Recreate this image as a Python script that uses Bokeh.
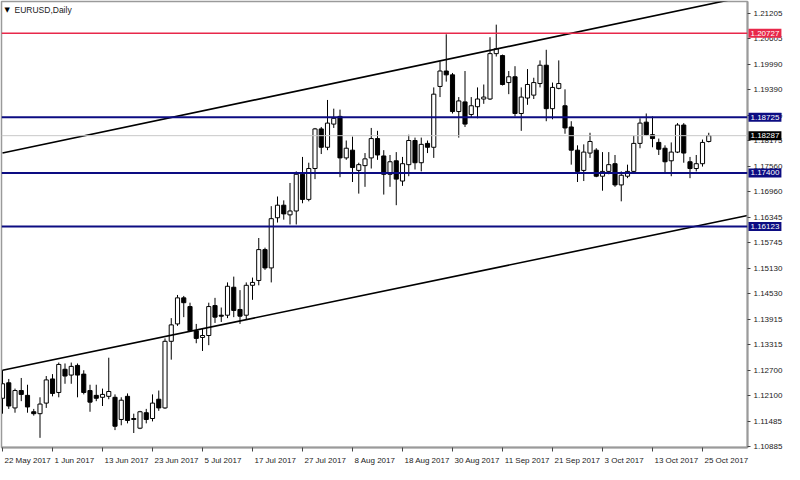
import pandas as pd
from bokeh.plotting import figure
from bokeh.models import FixedTicker, Span, Label, Range1d, PrintfTickFormatter, ColumnDataSource
from bokeh.embed import file_html
from bokeh.resources import INLINE

# ---------------- data ----------------
dates = pd.bdate_range("2017-05-22", periods=114)

opens = [1.12036, 1.12404, 1.11806, 1.12220, 1.12105, 1.11715, 1.11669, 1.11921, 1.12496, 1.12174,
         1.12726, 1.12588, 1.12818, 1.12611, 1.12220, 1.12105, 1.12059, 1.12082, 1.12059, 1.11531,
         1.12082, 1.11554, 1.11324, 1.11692, 1.11554, 1.12013, 1.11806, 1.13392, 1.13806, 1.14426,
         1.14219, 1.13645, 1.13484, 1.13530, 1.14242, 1.14013, 1.14013, 1.14679, 1.14150, 1.14013,
         1.14725, 1.14840, 1.15575, 1.15139, 1.16333, 1.16632, 1.16402, 1.16494, 1.17368, 1.16770,
         1.17505, 1.18448, 1.18011, 1.18563, 1.18746, 1.17758, 1.17942, 1.17460, 1.17574, 1.17758,
         1.18218, 1.17804, 1.17368, 1.17689, 1.17207, 1.17597, 1.18172, 1.17643, 1.18103, 1.18011,
         1.19459, 1.19826, 1.19735, 1.18861, 1.19091, 1.18792, 1.18976, 1.19160, 1.19160, 1.20240,
         1.20194, 1.19551, 1.19689, 1.18815, 1.19183, 1.19252, 1.19528, 1.19964, 1.18930, 1.19413,
         1.18999, 1.18494, 1.17942, 1.17460, 1.17873, 1.17942, 1.17322, 1.17437, 1.17620, 1.17115,
         1.17322, 1.17437, 1.18103, 1.18609, 1.18310, 1.18126, 1.17988, 1.17689, 1.17896, 1.18540,
         1.17666, 1.17505, 1.17620, 1.18149]

highs = [1.12703, 1.12496, 1.12266, 1.12519, 1.12358, 1.11783, 1.12059, 1.12565, 1.12611, 1.12886,
         1.12864, 1.12886, 1.12864, 1.12703, 1.12358, 1.12358, 1.12266, 1.13001, 1.12128, 1.12059,
         1.12151, 1.11669, 1.11737, 1.11783, 1.12128, 1.12220, 1.13461, 1.13944, 1.14495, 1.14472,
         1.14311, 1.13806, 1.13691, 1.14311, 1.14426, 1.14196, 1.14794, 1.14932, 1.14610, 1.14794,
         1.14909, 1.15851, 1.15621, 1.16609, 1.16839, 1.16747, 1.17161, 1.17437, 1.17781, 1.17643,
         1.18471, 1.18494, 1.19137, 1.18930, 1.18907, 1.18172, 1.18264, 1.17643, 1.17873, 1.18471,
         1.18402, 1.17942, 1.17827, 1.17896, 1.17781, 1.18310, 1.18241, 1.18241, 1.18172, 1.19436,
         1.20056, 1.20700, 1.19780, 1.19206, 1.19826, 1.19206, 1.19436, 1.19505, 1.20631, 1.20930,
         1.20217, 1.19826, 1.19941, 1.19436, 1.19872, 1.19666, 1.20079, 1.20332, 1.19551, 1.20079,
         1.19390, 1.18631, 1.18057, 1.18080, 1.18356, 1.17988, 1.17896, 1.17896, 1.17827, 1.17437,
         1.17597, 1.18287, 1.18700, 1.18815, 1.18746, 1.18218, 1.18057, 1.18126, 1.18586, 1.18586,
         1.17781, 1.17827, 1.18195, 1.18356]

lows = [1.11669, 1.11783, 1.11692, 1.11967, 1.11692, 1.11623, 1.11094, 1.11806, 1.12082, 1.12059,
        1.12381, 1.12381, 1.12059, 1.12128, 1.11715, 1.11967, 1.11852, 1.12013, 1.11278, 1.11393,
        1.11439, 1.11209, 1.11301, 1.11439, 1.11485, 1.11737, 1.11783, 1.12955, 1.13760, 1.13967,
        1.13622, 1.13346, 1.13162, 1.13300, 1.13829, 1.13852, 1.13944, 1.13967, 1.13806, 1.13921,
        1.14380, 1.14725, 1.15093, 1.14794, 1.16219, 1.16288, 1.16173, 1.16173, 1.16678, 1.16724,
        1.17253, 1.17850, 1.17942, 1.18471, 1.17299, 1.17712, 1.17184, 1.16908, 1.17069, 1.17505,
        1.17712, 1.16885, 1.17069, 1.16632, 1.17092, 1.17322, 1.17482, 1.17437, 1.17873, 1.17758,
        1.19206, 1.19574, 1.18815, 1.18241, 1.18494, 1.18723, 1.18700, 1.19045, 1.19137, 1.20171,
        1.19482, 1.19275, 1.18746, 1.18402, 1.19022, 1.19160, 1.19436, 1.18631, 1.18677, 1.19390,
        1.18333, 1.17597, 1.17184, 1.17207, 1.17758, 1.17299, 1.16977, 1.17368, 1.17069, 1.16724,
        1.17276, 1.17414, 1.17988, 1.18287, 1.18011, 1.17827, 1.17391, 1.17322, 1.17873, 1.17643,
        1.17276, 1.17437, 1.17551, 1.18126]

closes = [1.12381, 1.11852, 1.12220, 1.12128, 1.11829, 1.11669, 1.11898, 1.12473, 1.12151, 1.12841,
          1.12565, 1.12795, 1.12588, 1.12174, 1.11944, 1.12036, 1.12128, 1.12197, 1.11370, 1.11990,
          1.11508, 1.11531, 1.11715, 1.11531, 1.11921, 1.11806, 1.13392, 1.13783, 1.14426, 1.14311,
          1.13645, 1.13461, 1.13530, 1.14219, 1.13967, 1.13990, 1.14702, 1.14127, 1.13990, 1.14725,
          1.14794, 1.15575, 1.15139, 1.16311, 1.16632, 1.16425, 1.16494, 1.17368, 1.16770, 1.17505,
          1.18448, 1.18011, 1.18586, 1.18700, 1.17758, 1.17988, 1.17528, 1.17597, 1.17735, 1.18218,
          1.17827, 1.17368, 1.17666, 1.17253, 1.17620, 1.18172, 1.17643, 1.18080, 1.18011, 1.19275,
          1.19826, 1.19735, 1.18861, 1.19114, 1.18563, 1.18999, 1.19160, 1.19206, 1.20240, 1.20355,
          1.19505, 1.19689, 1.18815, 1.19206, 1.19505, 1.19551, 1.19964, 1.18930, 1.19436, 1.19528,
          1.18471, 1.17942, 1.17437, 1.17896, 1.18149, 1.17322, 1.17437, 1.17597, 1.17115, 1.17345,
          1.17437, 1.18103, 1.18586, 1.18310, 1.18218, 1.17965, 1.17666, 1.17896, 1.18540, 1.17873,
          1.17505, 1.17620, 1.18126, 1.18287]

date_tick_labels = ["22 May 2017", "1 Jun 2017", "13 Jun 2017", "23 Jun 2017", "5 Jul 2017",
                    "17 Jul 2017", "27 Jul 2017", "8 Aug 2017", "18 Aug 2017", "30 Aug 2017",
                    "11 Sep 2017", "21 Sep 2017", "3 Oct 2017", "13 Oct 2017", "25 Oct 2017"]
date_tick_index = [0, 8, 16, 24, 32, 40, 48, 56, 64, 72, 80, 88, 96, 104, 112]

price_ticks = [1.21205, 1.20605, 1.19990, 1.19390, 1.18775, 1.18175, 1.17560, 1.16960, 1.16345,
               1.15745, 1.15130, 1.14530, 1.13915, 1.13315, 1.12700, 1.12100, 1.11485, 1.10885]

level_prices = [1.20727, 1.18725, 1.17400, 1.16123]
level_colors = ["#e8284a", "#0c0c82", "#0c0c82", "#0c0c82"]
last_price = 1.18287

upper_channel_x = [0, 119.2]
upper_channel_y = [1.17873, 1.21609]
lower_channel_x = [0, 119.2]
lower_channel_y = [1.12703, 1.16386]

symbol_title = "EURUSD,Daily"

# ---------------- figure ----------------
X0, X1 = -0.16, 119.2
Y0, Y1 = 1.10864, 1.21481
FW, FH = 746, 446
FONT = "Liberation Sans"

p = figure(frame_width=FW, frame_height=FH, output_backend="svg", toolbar_location=None,
           x_range=Range1d(X0, X1), y_range=Range1d(Y0, Y1), y_axis_location="right",
           min_border_left=1, min_border_top=1, min_border_right=0, min_border_bottom=0,
           background_fill_color="white", border_fill_color="white")
p.xgrid.visible = False
p.ygrid.visible = False
p.outline_line_color = "#9a9a9a"
p.outline_line_width = 1.5

idx = list(range(len(opens)))
up = [c >= o for o, c in zip(opens, closes)]
src = ColumnDataSource(dict(
    x=idx, o=opens, h=highs, l=lows, c=closes,
    top=[max(o, c) for o, c in zip(opens, closes)],
    bot=[min(o, c) for o, c in zip(opens, closes)],
    fill=["white" if u else "black" for u in up],
))
p.segment(x0="x", y0="l", x1="x", y1="h", source=src, line_color="black", line_width=1)
p.vbar(x="x", width=0.66, top="top", bottom="bot", source=src,
       fill_color="fill", line_color="black", line_width=1)

# trend channel
p.line(upper_channel_x, upper_channel_y, line_color="black", line_width=1.6)
p.line(lower_channel_x, lower_channel_y, line_color="black", line_width=1.6)

# horizontal levels
p.add_layout(Span(location=last_price, dimension="width", line_color="#c8c8c8", line_width=1))
for lp, lc in zip(level_prices, level_colors):
    p.add_layout(Span(location=lp, dimension="width", line_color=lc,
                      line_width=1.5 if lc.startswith("#e8") else 2))

# right price axis
ya = p.yaxis[0]
ya.ticker = FixedTicker(ticks=price_ticks, minor_ticks=[])
ya.formatter = PrintfTickFormatter(format="%.5f")
ya.axis_line_color = "#9a9a9a"
ya.axis_line_width = 2
ya.major_tick_line_color = "#444444"
ya.major_tick_out = 3
ya.major_tick_in = 0
ya.minor_tick_line_color = None
ya.major_label_text_font = FONT
ya.major_label_text_font_size = "8px"
ya.major_label_text_color = "#222222"
ya.major_label_standoff = 3

# bottom date axis: tick marks at the bars (minor ticks), labels left-aligned to them
char_w = {"M": .833, "a": .556, "y": .5, "J": .5, "u": .556, "n": .556, "l": .222, "A": .667,
          "g": .556, "S": .667, "e": .556, "p": .556, "O": .778, "c": .5, "t": .278, " ": .278}
px_per_bar = FW / (X1 - X0)
centers, overrides = [], {}
for lab, ix in zip(date_tick_labels, date_tick_index):
    w = sum(char_w.get(ch, .556) for ch in lab) * 8
    cx = round(ix + (2 + w / 2) / px_per_bar, 3)
    centers.append(cx)
    overrides[cx] = lab
xa = p.xaxis[0]
xa.ticker = FixedTicker(ticks=centers, minor_ticks=date_tick_index)
xa.major_label_overrides = overrides
xa.axis_line_color = "#9a9a9a"
xa.axis_line_width = 2
xa.major_tick_line_color = None
xa.minor_tick_line_color = "#444444"
xa.minor_tick_out = 4
xa.minor_tick_in = 0
xa.major_label_text_font = FONT
xa.major_label_text_font_size = "8px"
xa.major_label_text_color = "#222222"
xa.major_label_standoff = 2

# price boxes on the axis (side-panel annotations are not clipped to the frame)
box_prices = level_prices + [last_price]
box_colors = level_colors + ["#000000"]
for lp, lc in zip(box_prices, box_colors):
    p.add_layout(Label(x=X1, y=lp, x_offset=1, text=f"{lp:.5f}", text_align="left",
                       text_baseline="middle", text_color="white", text_font=FONT,
                       text_font_size="8px", background_fill_color=lc, padding=2), "right")

# title
p.add_layout(Label(x=X0, y=Y1, x_offset=3, y_offset=-4, text="\u25bc", text_align="left",
                   text_baseline="top", text_color="black", text_font="DejaVu Sans",
                   text_font_size="7px"))
p.add_layout(Label(x=X0, y=Y1, x_offset=13, y_offset=-3, text=symbol_title, text_align="left",
                   text_baseline="top", text_color="#222222", text_font=FONT,
                   text_font_size="8.5px"))

open("out.html", "w").write(file_html(p, INLINE))
